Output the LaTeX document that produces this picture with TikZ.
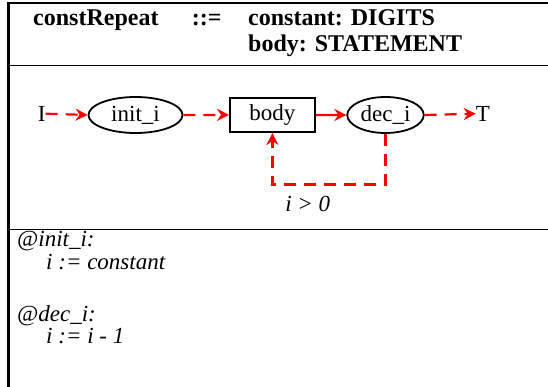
\documentclass[tikz,border=0pt]{standalone}
\usepackage{fontspec}
\setmainfont{Liberation Serif}
\usetikzlibrary{arrows.meta,shapes.geometric,calc}
\begin{document}
\begin{tikzpicture}[x=1pt,y=-1pt,
  hdr/.style={anchor=base west,inner sep=0pt,font=\fontsize{24}{28}\selectfont\bfseries},
  txt/.style={anchor=base west,inner sep=0pt,font=\fontsize{23}{27}\selectfont\itshape},
  lbl/.style={inner sep=0pt,font=\fontsize{23}{27}\selectfont},
  ell/.style={ellipse,draw,line width=1.8pt,inner sep=0pt,minimum height=36pt,font=\fontsize{23}{27}\selectfont},
  boxnode/.style={rectangle,draw,line width=2.2pt,inner sep=0pt,minimum width=84.5pt,minimum height=34pt,font=\fontsize{23}{27}\selectfont},
  redarrow/.style={draw=red,line width=2.2pt,-{Stealth[length=12pt,width=12pt,inset=4pt]}},
  reddash/.style={redarrow,dash pattern=on 12pt off 8pt}
]
\useasboundingbox (0,0) rectangle (548,387);
% frame
\draw[line width=3pt] (8.5,387) -- (8.5,3.5);
\draw[line width=2pt] (7,3.5) -- (548,3.5);
\draw[line width=1.4pt] (8.5,65.5) -- (548,65.5);
\draw[line width=1.4pt] (8.5,229.5) -- (548,229.5);
% header
\node[hdr] (name) at (33,25.7) {constRepeat};
\node[hdr] (def) at (191.7,25.7) {::=};
\node[hdr] (c1) at (248,25.7) {constant: DIGITS};
\node[hdr] (c2) at (248,51.7) {body: STATEMENT};
% diagram
\node[lbl] (I) at (41.6,113.7) {I};
\node[ell,minimum width=94pt] (init) at (135.5,115) {init\_i};
\node[boxnode] (body) at (272.4,114.9) {body};
\node[ell,minimum width=76.5pt] (dec) at (385.5,115) {dec\_i};
\node[lbl] (T) at (483,113.7) {T};
\draw[reddash] (I.east) -- (init.west);
\draw[reddash] (init.east) -- (body.west);
\draw[redarrow] (body.east) -- (dec.west);
\draw[reddash] (dec.east) -- (T.west);
\draw[reddash] (dec.south) -- ++(0,50.7) -| (body.south);
\node[lbl,anchor=base,font=\fontsize{23}{27}\selectfont\itshape] (cond) at (307.7,211.6) {i > 0};
% bottom text
\node[txt] (a1) at (17,247) {@init\_i:};
\node[txt] (a2) at (46,269) {i := constant};
\node[txt] (b1) at (17,321) {@dec\_i:};
\node[txt] (b2) at (46,343) {i := i - 1};
\end{tikzpicture}
\end{document}
